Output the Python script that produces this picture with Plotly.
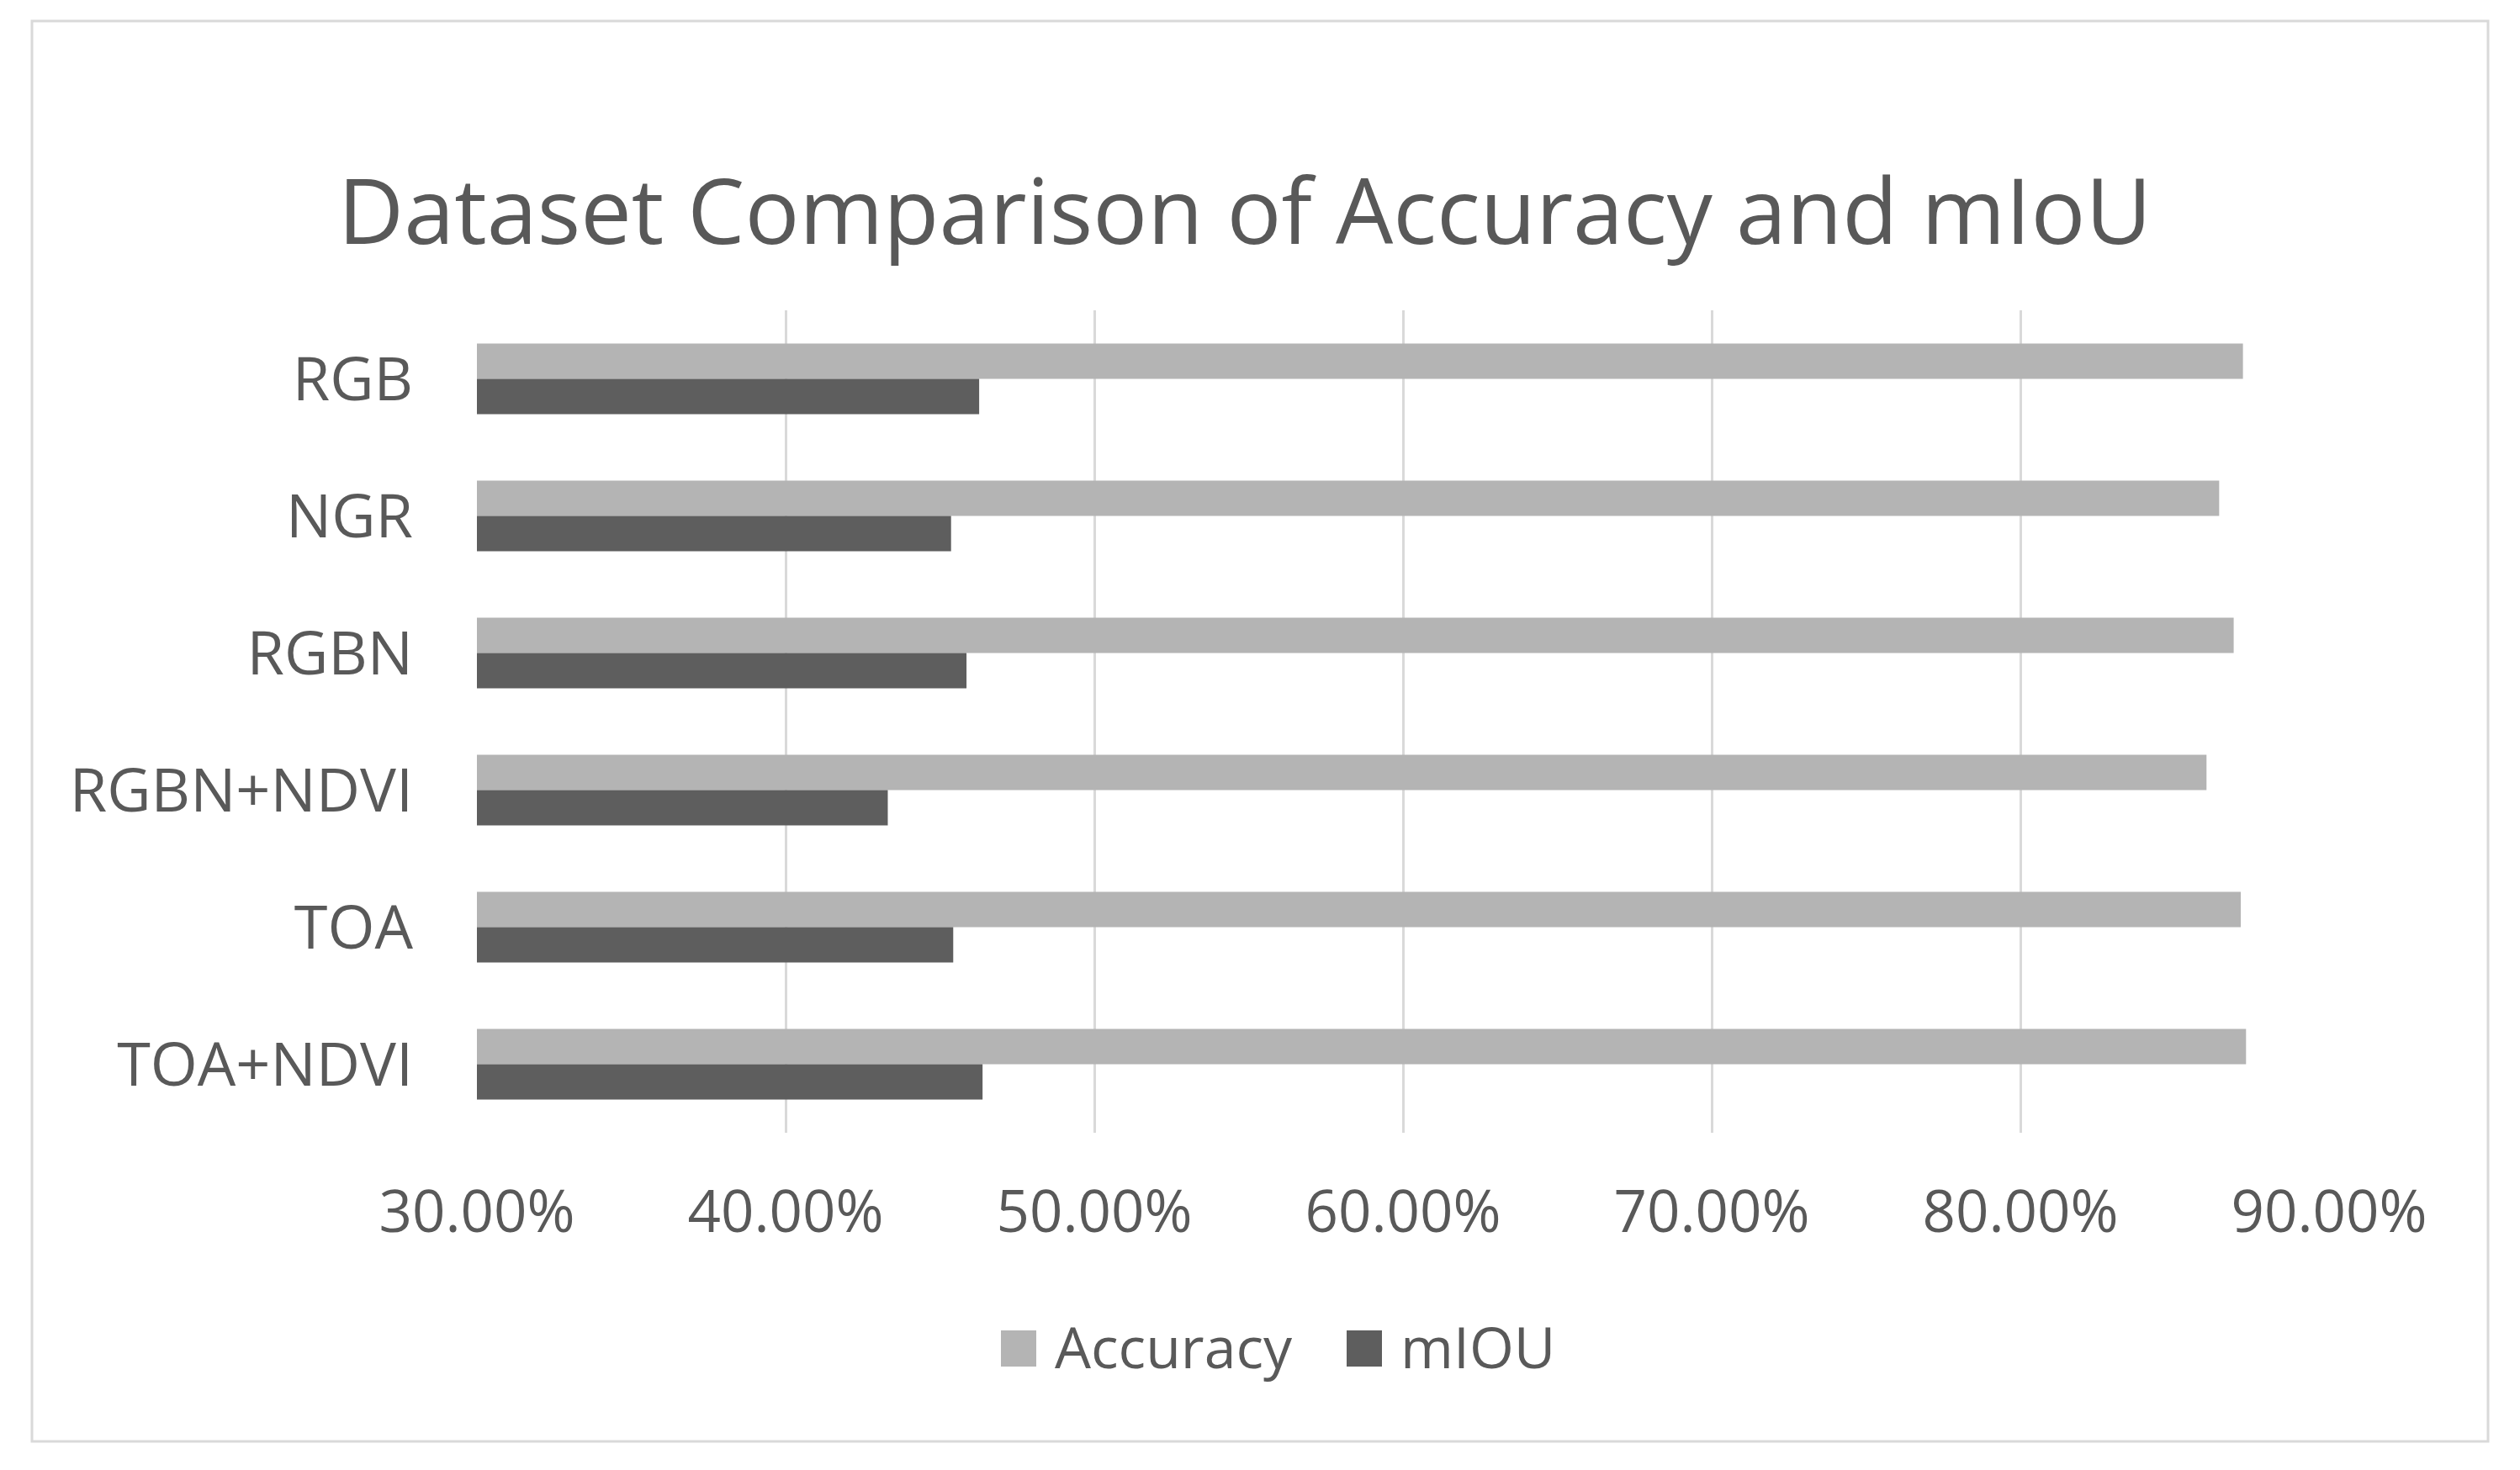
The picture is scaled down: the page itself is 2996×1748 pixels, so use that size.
import plotly.graph_objects as go

categories = ["RGB", "NGR", "RGBN", "RGBN+NDVI", "TOA", "TOA+NDVI"]
accuracy = [0.8721, 0.8644, 0.8691, 0.8603, 0.8714, 0.8731]
miou = [0.4627, 0.4536, 0.4586, 0.4331, 0.4543, 0.4638]
x_ticks = [0.3, 0.4, 0.5, 0.6, 0.7, 0.8, 0.9]
series_names = ["Accuracy", "mIOU"]
title_text = "Dataset Comparison of Accuracy and mIoU"

ACC_C = "#b4b4b4"
MIOU_C = "#5e5e5e"
TXT_C = "#595959"
GRID_C = "#d9d9d9"
FONT = "Open Sans"

W, H = 2996, 1748
OFF = 8  # page body margin
PL, PR, PT, PB = 567, 2769, 369, 1347  # plot area in page pixels
pw, ph = PR - PL, PB - PT

fig = go.Figure()
fig.add_trace(go.Bar(y=categories, x=accuracy, name=series_names[0], orientation="h",
                     marker=dict(color=ACC_C, line=dict(width=0)), showlegend=False))
fig.add_trace(go.Bar(y=categories, x=miou, name=series_names[1], orientation="h",
                     marker=dict(color=MIOU_C, line=dict(width=0)), showlegend=False))


def px_x(p):
    return (p - PL) / pw


def px_y(p):
    return (PB - p) / ph


# outer chart border
fig.add_shape(type="rect", xref="paper", yref="paper",
              x0=px_x(38), x1=px_x(2958), y0=px_y(1714), y1=px_y(25),
              line=dict(color=GRID_C, width=3), fillcolor="rgba(0,0,0,0)", layer="below")

# manual legend
legend_items = [(series_names[0], ACC_C, 1190, 1252), (series_names[1], MIOU_C, 1601, 1663)]
for name, c, sx, tx in legend_items:
    fig.add_shape(type="rect", xref="paper", yref="paper",
                  x0=px_x(sx), x1=px_x(sx + 42), y0=px_y(1625), y1=px_y(1582),
                  line=dict(width=0), fillcolor=c)
    fig.add_annotation(text=name, xref="paper", yref="paper", x=px_x(tx), y=px_y(1600),
                       xanchor="left", yanchor="middle", showarrow=False,
                       font=dict(family=FONT, size=68, color=TXT_C))

fig.update_layout(
    width=W, height=H,
    margin=dict(l=PL - OFF, r=W - (PR - OFF), t=PT - OFF, b=H - (PB - OFF), autoexpand=False),
    paper_bgcolor="white", plot_bgcolor="white",
    barmode="group", bargap=0.485, bargroupgap=0,
    font=dict(family=FONT, color=TXT_C, size=70),
    title=dict(text=title_text, x=(1480 - OFF) / W, xanchor="center",
               y=1 - (252 - OFF) / H, yanchor="middle", yref="container",
               font=dict(family=FONT, size=108, color=TXT_C)),
    xaxis=dict(range=[0.3, 0.9], tickvals=x_ticks, tickformat=".2%",
               showgrid=True, gridcolor=GRID_C, gridwidth=3, zeroline=False,
               showline=False, ticks="", ticklabelstandoff=48,
               tickfont=dict(size=69, color=TXT_C, family=FONT), fixedrange=True),
    yaxis=dict(autorange="reversed", showgrid=False, zeroline=False, showline=False,
               ticks="", ticklabelstandoff=75,
               tickfont=dict(size=72, color=TXT_C, family=FONT)),
    showlegend=False,
)

fig.write_html("out.html")
